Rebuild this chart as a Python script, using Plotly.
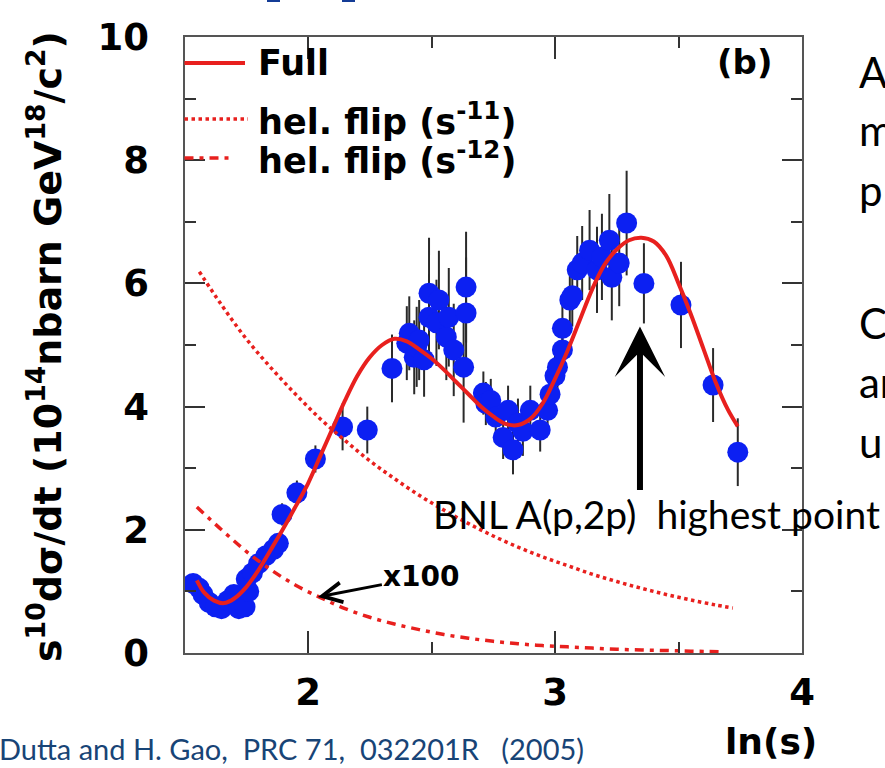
import plotly.graph_objects as go

W, H = 885, 768

# ---------------- data ----------------
lns_pts = [1.535, 1.56, 1.575, 1.60, 1.625, 1.65, 1.675, 1.70, 1.72, 1.745, 1.76, 1.75, 1.775,
           1.80, 1.83, 1.86, 1.88, 1.895, 1.955, 2.03, 2.14, 2.24,
           2.34, 2.40, 2.41, 2.43, 2.44, 2.45, 2.47, 2.49, 2.49, 2.52, 2.53, 2.56, 2.57, 2.59,
           2.63, 2.64, 2.64,
           2.71, 2.72, 2.74, 2.76, 2.79, 2.81, 2.83, 2.85, 2.87, 2.90, 2.94, 2.97, 2.98,
           3.00, 3.01, 3.03, 3.03, 3.06, 3.07, 3.09, 3.11, 3.14, 3.17, 3.19, 3.22, 3.23, 3.26, 3.29,
           3.36, 3.51, 3.64, 3.74]
y_pts = [1.13, 1.05, 0.95, 0.82, 0.75, 0.72, 0.85, 0.95, 0.72, 0.75, 1.00, 1.20, 1.30,
         1.45, 1.58, 1.68, 1.78, 2.25, 2.60, 3.15, 3.67, 3.62,
         4.62, 5.03, 5.19, 4.80, 4.97, 5.08, 4.76, 5.45, 5.84, 5.36, 5.73, 5.13, 5.45, 4.92,
         4.64, 5.94, 5.52,
         4.22, 4.05, 4.10, 3.83, 3.50, 3.94, 3.30, 3.73, 3.60, 3.94, 3.62, 3.94, 4.20,
         4.50, 4.64, 4.92, 5.27, 5.73, 5.80, 6.22, 6.33, 6.54, 6.22, 6.43, 6.70, 6.10, 6.33, 6.98,
         6.00, 5.65, 4.35, 3.26]
err_pts = [0.10, 0.10, 0.10, 0.10, 0.10, 0.10, 0.10, 0.10, 0.10, 0.10, 0.10, 0.10, 0.12,
           0.12, 0.12, 0.12, 0.15, 0.18, 0.20, 0.22, 0.38, 0.38,
           0.55, 0.60, 0.60, 0.60, 0.65, 0.65, 0.60, 0.70, 0.90, 0.70, 0.80, 0.70, 0.80, 0.75,
           0.90, 0.90, 0.90,
           0.35, 0.35, 0.35, 0.35, 0.35, 0.40, 0.40, 0.40, 0.40, 0.40, 0.35, 0.35, 0.35,
           0.40, 0.40, 0.45, 0.45, 0.50, 0.50, 0.55, 0.60, 0.65, 0.70, 0.70, 0.75, 0.70, 0.70, 0.85,
           0.65, 0.70, 0.60, 0.55]

full_x = [1.55, 1.58, 1.62, 1.66, 1.70, 1.75, 1.80, 1.85, 1.90, 1.95, 2.00, 2.05, 2.10, 2.15,
          2.20, 2.25, 2.30, 2.35, 2.40, 2.45, 2.50, 2.55, 2.60, 2.65, 2.70, 2.75, 2.80, 2.85,
          2.90, 2.95, 3.00, 3.05, 3.10, 3.15, 3.20, 3.25, 3.30, 3.35, 3.40, 3.45, 3.50, 3.55,
          3.60, 3.65, 3.70, 3.74]
full_y = [1.18, 0.98, 0.85, 0.81, 0.88, 1.07, 1.35, 1.68, 2.02, 2.38, 2.75, 3.20, 3.65, 4.10,
          4.50, 4.80, 5.00, 5.10, 5.06, 4.93, 4.78, 4.60, 4.40, 4.20, 4.00, 3.84, 3.72, 3.70,
          3.80, 4.05, 4.45, 4.90, 5.40, 5.90, 6.30, 6.55, 6.70, 6.74, 6.68, 6.45, 6.00, 5.50,
          4.95, 4.40, 3.95, 3.68]

flip11_x = [1.56, 1.65, 1.75, 1.85, 1.95, 2.05, 2.15, 2.25, 2.35, 2.45, 2.55, 2.65, 2.75,
            2.85, 2.95, 3.05, 3.15, 3.25, 3.35, 3.45, 3.55, 3.65, 3.72]
flip11_y = [6.19, 5.65, 5.10, 4.63, 4.20, 3.80, 3.45, 3.12, 2.83, 2.56, 2.32, 2.10, 1.90,
            1.72, 1.56, 1.42, 1.28, 1.16, 1.05, 0.95, 0.86, 0.78, 0.73]

flip12_x = [1.55, 1.65, 1.75, 1.85, 1.95, 2.05, 2.15, 2.25, 2.35, 2.45, 2.55, 2.65, 2.75,
            2.85, 2.95, 3.05, 3.15, 3.25, 3.35, 3.45, 3.55, 3.68]
flip12_y = [2.37, 2.00, 1.65, 1.35, 1.10, 0.90, 0.72, 0.58, 0.47, 0.38, 0.30, 0.24, 0.19,
            0.15, 0.12, 0.10, 0.08, 0.06, 0.05, 0.04, 0.03, 0.02]

x_tickvals = [2, 3, 4]
y_tickvals = [0, 2, 4, 6, 8, 10]

legend_names = ["Full", "hel. flip (s<sup>-11</sup>)", "hel. flip (s<sup>-12</sup>)"]

# ---------------- styles ----------------
BLUE = "rgb(12,32,242)"
RED = "rgb(232,32,30)"
CHART_FONT = "DejaVu Sans"
SLIDE_FONT = "Lato"

# plot frame in pixels
L, R, T, B = 184.5, 802.0, 37.0, 653.0


def px(x):
    return x / W


def py(y):
    return 1 - y / H


fig = go.Figure()

fig.add_trace(go.Scatter(
    x=lns_pts, y=y_pts, mode="markers",
    marker=dict(size=21, color=BLUE, line=dict(width=0)),
    error_y=dict(type="data", array=err_pts, color="#2a2a2a", thickness=2, width=0),
    showlegend=False))

fig.add_trace(go.Scatter(x=flip11_x, y=flip11_y, mode="lines", name=legend_names[1],
                         line=dict(color=RED, width=3.5, dash="dot", shape="spline"),
                         showlegend=False))
fig.add_trace(go.Scatter(x=flip12_x, y=flip12_y, mode="lines", name=legend_names[2],
                         line=dict(color=RED, width=3.5, dash="9px,6px,4px,6px", shape="spline"),
                         showlegend=False))
fig.add_trace(go.Scatter(x=full_x, y=full_y, mode="lines", name=legend_names[0],
                         line=dict(color=RED, width=4, shape="spline"),
                         showlegend=False))

# ---------------- legend (manual) ----------------
leg_rows = [(63, "solid", 245), (119, "dot", 248), (158, "9px,6px,4px,6px", 232)]
shapes = []
annotations = []
for (yy, dash, x1), name in zip(leg_rows, legend_names):
    shapes.append(dict(type="line", xref="paper", yref="paper",
                       x0=px(L), x1=px(x1), y0=py(yy), y1=py(yy),
                       line=dict(color=RED, width=3.5 if dash != "solid" else 4, dash=dash)))
    annotations.append(dict(xref="paper", yref="paper", x=px(256), y=py(yy),
                            xanchor="left", yanchor="middle", showarrow=False,
                            text="<b>" + name + "</b>",
                            font=dict(family=CHART_FONT, size=35, color="black")))

# (b)
annotations.append(dict(xref="paper", yref="paper", x=px(744), y=py(62),
                        xanchor="center", yanchor="middle", showarrow=False,
                        text="<b>(b)</b>", font=dict(family=CHART_FONT, size=34, color="black")))

# y axis title
annotations.append(dict(xref="paper", yref="paper", x=px(45), y=py(347),
                        xanchor="center", yanchor="middle", showarrow=False, textangle=-90,
                        text="<b>s<sup>10</sup>dσ/dt (10<sup>14</sup>nbarn GeV<sup>18</sup>/c<sup>2</sup>)</b>",
                        font=dict(family=CHART_FONT, size=38, color="black")))

# x axis title
annotations.append(dict(xref="paper", yref="paper", x=px(771), y=py(741),
                        xanchor="center", yanchor="middle", showarrow=False,
                        text="<b>ln(s)</b>", font=dict(family=CHART_FONT, size=36, color="black")))

# x100 with arrow
annotations.append(dict(x=2.04, y=0.91, xref="x", yref="y", ax=104, ay=-20,
                        text="<b>x100</b>", showarrow=True, arrowhead=5, arrowsize=1.3,
                        arrowwidth=3, arrowcolor="black", standoff=0,
                        font=dict(family=CHART_FONT, size=28, color="black")))

# BNL arrow
annotations.append(dict(x=3.344, y=5.3, xref="x", yref="y", ax=3.344, ay=2.62,
                        axref="x", ayref="y", text="", showarrow=True, arrowhead=3,
                        arrowsize=1.4, arrowwidth=6, arrowcolor="black", standoff=0))

annotations.append(dict(xref="paper", yref="paper", x=px(431), y=py(514),
                        xanchor="left", yanchor="middle", showarrow=False,
                        text="BNL A(p,2p)  highest point",
                        font=dict(family=SLIDE_FONT, size=39, color="black")))

# citation
annotations.append(dict(xref="paper", yref="paper", x=px(-3), y=py(748),
                        xanchor="left", yanchor="middle", showarrow=False,
                        text="Dutta and H. Gao,  PRC 71,  032201R   (2005)",
                        font=dict(family=SLIDE_FONT, size=29, color="rgb(24,68,118)")))

# cut-off slide text on the right
for txt, yy in [("A", 72), ("m", 130), ("p", 190), ("C", 323), ("ar", 382), ("u", 442)]:
    annotations.append(dict(xref="paper", yref="paper", x=px(857), y=py(yy),
                            xanchor="left", yanchor="middle", showarrow=False,
                            text=txt, font=dict(family=SLIDE_FONT, size=42, color="black")))

# small blue fragments at top of slide
for x0, x1 in [(267, 280), (342, 355)]:
    shapes.append(dict(type="rect", xref="paper", yref="paper",
                       x0=px(x0), x1=px(x1), y0=py(2), y1=py(0),
                       fillcolor="rgb(20,60,150)", line=dict(width=0)))

axis_common = dict(showline=True, linecolor="#555", linewidth=2, mirror="ticks",
                   ticks="inside", tickcolor="#333", tickwidth=2, showgrid=False,
                   zeroline=False, automargin=False)

fig.update_layout(
    template="none",
    width=W, height=H,
    margin=dict(l=0, r=0, t=0, b=0, pad=0, autoexpand=False),
    paper_bgcolor="white", plot_bgcolor="white",
    showlegend=False,
    shapes=shapes,
    annotations=annotations,
    xaxis=dict(domain=[px(L), px(R)], range=[1.5, 4.0], tickvals=x_tickvals,
               ticktext=[str(v) for v in x_tickvals], ticklen=22,
               minor=dict(tickvals=[2.5, 3.5], ticklen=11, ticks="inside", tickcolor="#333", tickwidth=2),
               tickfont=dict(family=CHART_FONT, size=37, color="black", weight="bold"),
               ticklabelstandoff=6, **axis_common),
    yaxis=dict(domain=[py(B), py(T)], range=[0, 10], tickvals=y_tickvals,
               ticktext=[str(v) for v in y_tickvals], ticklen=20,
               minor=dict(tickvals=[1, 3, 5, 7, 9], ticklen=11, ticks="inside", tickcolor="#333", tickwidth=2),
               tickfont=dict(family=CHART_FONT, size=37, color="black", weight="bold"),
               ticklabelstandoff=26, **axis_common),
)

fig.write_html("out.html")
